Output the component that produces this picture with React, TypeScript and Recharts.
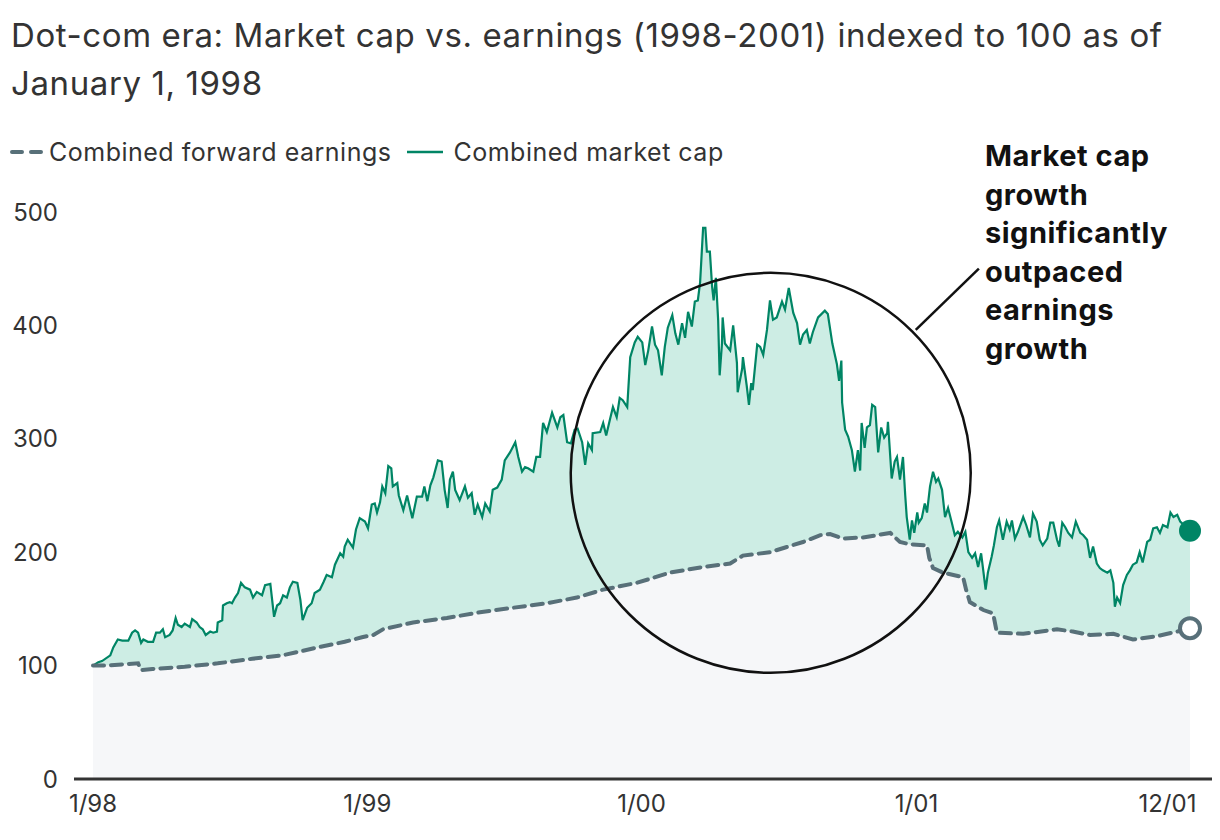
import React from 'react';
import {
  ComposedChart,
  Area,
  XAxis,
  YAxis,
  ReferenceDot,
  ReferenceLine,
} from 'recharts';

// [days since 1/1/98, index value]
const marketCap: [number, number][] = [
  [0, 100], [7, 103], [12, 104], [23, 109], [27, 116], [33, 123], [39, 122], [47, 122],
  [52, 129], [56, 131], [60, 129], [64, 120], [67, 123], [73, 121], [80, 121], [84, 129],
  [89, 129], [93, 132], [96, 125], [102, 127], [106, 131], [110, 142], [113, 136], [118, 134],
  [122, 137], [129, 134], [132, 141], [138, 138], [142, 134], [146, 132], [150, 127], [156, 130],
  [160, 129], [165, 130], [166, 138], [172, 140], [173, 153], [178, 155], [182, 156], [185, 155],
  [189, 160], [193, 164], [197, 173], [202, 169], [209, 167], [213, 160], [218, 165], [225, 162],
  [229, 171], [236, 172], [241, 143], [245, 153], [249, 155], [253, 162], [258, 160], [262, 169],
  [266, 174], [272, 173], [276, 158], [279, 140], [285, 151], [291, 155], [295, 164], [302, 167],
  [307, 174], [311, 180], [318, 178], [322, 189], [329, 199], [333, 196], [335, 205], [339, 211],
  [346, 204], [350, 220], [355, 230], [362, 227], [366, 221], [371, 242], [375, 243], [378, 235],
  [382, 244], [385, 258], [389, 252], [393, 276], [397, 274], [399, 258], [405, 261], [407, 250],
  [413, 237], [418, 250], [425, 230], [431, 249], [438, 249], [441, 258], [445, 245], [449, 259],
  [453, 266], [459, 281], [464, 280], [468, 255], [472, 239], [475, 264], [479, 271], [482, 255],
  [488, 246], [495, 258], [499, 248], [504, 252], [508, 233], [512, 242], [518, 231], [522, 243],
  [528, 236], [532, 255], [538, 257], [544, 264], [548, 281], [555, 288], [562, 297], [566, 284],
  [571, 271], [575, 275], [579, 274], [586, 271], [590, 284], [595, 284], [599, 314], [604, 306],
  [611, 323], [618, 310], [622, 319], [626, 321], [631, 297], [636, 296], [641, 308], [645, 309],
  [651, 297], [655, 277], [659, 296], [664, 290], [665, 305], [675, 306], [679, 314], [683, 303],
  [688, 317], [692, 328], [697, 319], [701, 336], [705, 334], [711, 328], [715, 372], [721, 385],
  [725, 390], [731, 385], [735, 365], [739, 378], [744, 399], [748, 383], [752, 378], [757, 356],
  [761, 381], [765, 398], [771, 409], [775, 393], [779, 383], [784, 402], [788, 389], [792, 412],
  [797, 399], [801, 421], [805, 422], [808, 438], [812, 486], [815, 486], [817, 465], [821, 465],
  [824, 434], [826, 422], [829, 442], [832, 405], [834, 356], [837, 383], [838, 407], [841, 384],
  [848, 378], [852, 400], [857, 367], [858, 341], [864, 362], [865, 372], [870, 347], [873, 330],
  [876, 349], [878, 343], [884, 383], [888, 381], [892, 374], [897, 396], [901, 422], [905, 405],
  [910, 407], [917, 421], [921, 414], [926, 433], [932, 411], [937, 402], [941, 383], [945, 392],
  [950, 396], [954, 384], [958, 394], [965, 407], [974, 413], [978, 410], [984, 384], [990, 366],
  [993, 351], [996, 369], [997, 332], [1001, 308], [1005, 302], [1010, 290], [1014, 271], [1018, 290],
  [1021, 272], [1023, 314], [1027, 292], [1030, 310], [1034, 312], [1037, 330], [1041, 328], [1045, 288],
  [1049, 310], [1053, 301], [1057, 305], [1058, 315], [1063, 265], [1067, 280], [1070, 284], [1074, 264],
  [1078, 284], [1081, 250], [1083, 231], [1087, 211], [1090, 228], [1093, 217], [1097, 235], [1099, 226],
  [1103, 230], [1107, 243], [1110, 235], [1114, 258], [1118, 271], [1122, 262], [1125, 265], [1130, 255],
  [1134, 231], [1138, 239], [1143, 226], [1147, 215], [1151, 218], [1157, 213], [1161, 218], [1165, 200],
  [1170, 195], [1174, 199], [1178, 187], [1182, 199], [1185, 183], [1188, 167], [1191, 182], [1196, 196],
  [1199, 206], [1203, 222], [1206, 228], [1211, 211], [1216, 227], [1220, 220], [1223, 228], [1227, 212],
  [1231, 218], [1238, 231], [1242, 224], [1247, 213], [1251, 234], [1256, 227], [1260, 211], [1264, 206],
  [1270, 212], [1274, 226], [1278, 226], [1283, 211], [1286, 205], [1290, 226], [1294, 222], [1298, 217],
  [1303, 213], [1308, 227], [1314, 217], [1318, 215], [1323, 211], [1327, 195], [1331, 205], [1336, 190],
  [1340, 186], [1344, 184], [1350, 182], [1354, 184], [1358, 173], [1360, 152], [1363, 160], [1367, 155],
  [1371, 171], [1376, 180], [1380, 184], [1384, 189], [1389, 191], [1393, 200], [1397, 191], [1403, 209],
  [1407, 211], [1411, 221], [1416, 222], [1420, 217], [1424, 224], [1430, 222], [1434, 235], [1438, 231],
  [1443, 233], [1447, 227], [1460, 219],
];

const forwardEarnings: [number, number][] = [
  [0, 100], [16, 100], [60, 102], [64, 96], [79, 97], [122, 99], [166, 102], [212, 106],
  [252, 109], [299, 116], [335, 121], [358, 125], [373, 127], [386, 132], [426, 138], [471, 142],
  [515, 147], [559, 151], [604, 155], [644, 160], [679, 167], [724, 173], [768, 182], [812, 187],
  [848, 190], [865, 197], [901, 200], [945, 209], [968, 215], [981, 216], [998, 212], [1025, 213],
  [1061, 217], [1074, 209], [1087, 207], [1110, 206], [1113, 195], [1118, 186], [1131, 182], [1158, 178],
  [1162, 167], [1167, 156], [1185, 149], [1198, 146], [1203, 129], [1238, 128], [1283, 132], [1304, 130],
  [1327, 127], [1358, 128], [1384, 123], [1416, 126], [1443, 130], [1460, 133],
];

const tickDays = [0, 365, 730, 1096, 1430];
const tickLabels = ['1/98', '1/99', '1/00', '1/01', '12/01'];
const yTicks = [0, 100, 200, 300, 400, 500];

const title = 'Dot-com era: Market cap vs. earnings (1998-2001) indexed to 100 as of January 1, 1998';
const note = ['Market cap', 'growth', 'significantly', 'outpaced', 'earnings', 'growth'];

const GREEN = '#008565';
const MINT = '#cdede4';
const SLATE = '#587079';
const PALE = '#f6f7f9';
const TEXT = '#333333';

type Row = { day: number; cap?: number; earn?: number };

const byDay = new Map<number, Row>();
marketCap.forEach(([d, v]) => {
  const r = byDay.get(d) ?? { day: d };
  r.cap = v;
  byDay.set(d, r);
});
forwardEarnings.forEach(([d, v]) => {
  const r = byDay.get(d) ?? { day: d };
  r.earn = v;
  byDay.set(d, r);
});
const data = [...byDay.values()].sort((a, b) => a.day - b.day);

const lastCap = marketCap[marketCap.length - 1];
const lastEarn = forwardEarnings[forwardEarnings.length - 1];

const font = 'Inter, "Open Sans", sans-serif';

export default function App() {
  return (
    <div style={{ position: 'absolute', left: 0, top: 0, width: 1220, height: 840, background: '#fff', fontFamily: font, color: TEXT }}>
      <div style={{ position: 'absolute', left: 11, top: 11, width: 1190, fontSize: 33, letterSpacing: 0.6, lineHeight: '48px' }}>
        {title}
      </div>

      {/* legend */}
      <div style={{ position: 'absolute', left: 10, top: 137, display: 'flex', alignItems: 'center', fontSize: 25, letterSpacing: 0.5, whiteSpace: 'nowrap' }}>
        <svg width={36} height={10} style={{ marginRight: 3 }}>
          <line x1={2} y1={5} x2={34} y2={5} stroke={SLATE} strokeWidth={4} strokeDasharray="10 9" strokeLinecap="round" />
        </svg>
        <span>Combined forward earnings</span>
        <svg width={40} height={10} style={{ marginLeft: 14, marginRight: 8 }}>
          <line x1={2} y1={5} x2={38} y2={5} stroke={GREEN} strokeWidth={2.5} />
        </svg>
        <span>Combined market cap</span>
      </div>

      {/* annotation text */}
      <div style={{ position: 'absolute', left: 985, top: 137, fontSize: 29, fontWeight: 700, letterSpacing: 0.5, lineHeight: '38.5px', color: '#111' }}>
        {note.map((t, i) => (
          <div key={i}>{t}</div>
        ))}
      </div>

      <div style={{ position: 'absolute', left: 0, top: 0 }}>
        <ComposedChart
          width={1220}
          height={840}
          data={data}
          margin={{ top: 212, right: 8, bottom: 21, left: 10 }}
        >
          <XAxis
            dataKey="day"
            type="number"
            domain={[0, 1460]}
            ticks={tickDays}
            tickFormatter={(v: number) => tickLabels[tickDays.indexOf(v)] ?? ''}
            padding={{ left: 19, right: 22 }}
            axisLine={{ stroke: TEXT, strokeWidth: 3 }}
            tickLine={false}
            tickMargin={10}
            height={40}
            tick={{ fill: TEXT, fontSize: 24, fontFamily: font }}
            interval={0}
          />
          <YAxis
            type="number"
            domain={[0, 500]}
            ticks={yTicks}
            axisLine={false}
            tickLine={false}
            width={64}
            tickMargin={10}
            tick={{ fill: TEXT, fontSize: 24, fontFamily: font }}
          />
          <Area
            dataKey="cap"
            type="linear"
            stroke={GREEN}
            strokeWidth={2.2}
            fill={MINT}
            fillOpacity={1}
            connectNulls
            dot={false}
            activeDot={false}
            isAnimationActive={false}
          />
          <Area
            dataKey="earn"
            type="linear"
            stroke={SLATE}
            strokeWidth={4}
            strokeDasharray="11 7"
            strokeLinecap="round"
            fill={PALE}
            fillOpacity={1}
            connectNulls
            dot={false}
            activeDot={false}
            isAnimationActive={false}
          />
          <ReferenceDot x={902} y={270} r={200} fill="none" stroke="#111" strokeWidth={2.5} ifOverflow="visible" />
          <ReferenceLine
            segment={[{ x: 1095, y: 396 }, { x: 1179, y: 450 }]}
            stroke="#111"
            strokeWidth={2.5}
            ifOverflow="visible"
          />
          <ReferenceDot x={lastCap[0]} y={lastCap[1]} r={11} fill={GREEN} stroke="none" ifOverflow="visible" />
          <ReferenceDot x={lastEarn[0]} y={lastEarn[1]} r={10} fill="#fff" stroke={SLATE} strokeWidth={4} ifOverflow="visible" />
        </ComposedChart>
      </div>
    </div>
  );
}
